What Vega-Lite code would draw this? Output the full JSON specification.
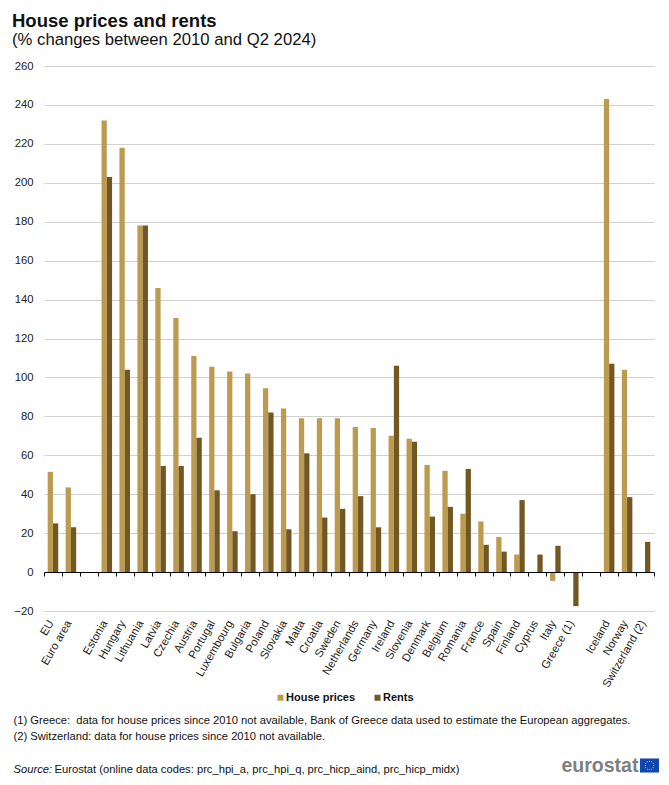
{"$schema":"https://vega.github.io/schema/vega-lite/v6.json","width":610,"height":545,"autosize":{"type":"none"},"padding":{"left":44,"top":66,"right":15,"bottom":174},"background":"white",
"config":{"font":"Liberation Sans","view":{"stroke":null}},
"title":{"text":"House prices and rents","subtitle":"(% changes between 2010 and Q2 2024)","anchor":"start","dx":-1,"offset":11,"fontSize":18.5,"fontWeight":"bold","color":"#111111","subtitleFontSize":16.7,"subtitleColor":"#111111","subtitleFont":"Liberation Sans","subtitlePadding":2},
"datasets":{"d":[
{"country":"EU","series":"House prices","value":51.5},{"country":"EU","series":"Rents","value":25},
{"country":"Euro area","series":"House prices","value":43.5},{"country":"Euro area","series":"Rents","value":23},
{"country":"Estonia","series":"House prices","value":232},{"country":"Estonia","series":"Rents","value":203},
{"country":"Hungary","series":"House prices","value":218},{"country":"Hungary","series":"Rents","value":104},
{"country":"Lithuania","series":"House prices","value":178},{"country":"Lithuania","series":"Rents","value":178},
{"country":"Latvia","series":"House prices","value":146},{"country":"Latvia","series":"Rents","value":54.5},
{"country":"Czechia","series":"House prices","value":130.5},{"country":"Czechia","series":"Rents","value":54.5},
{"country":"Austria","series":"House prices","value":111},{"country":"Austria","series":"Rents","value":69},
{"country":"Portugal","series":"House prices","value":105.5},{"country":"Portugal","series":"Rents","value":42},
{"country":"Luxembourg","series":"House prices","value":103},{"country":"Luxembourg","series":"Rents","value":21},
{"country":"Bulgaria","series":"House prices","value":102},{"country":"Bulgaria","series":"Rents","value":40},
{"country":"Poland","series":"House prices","value":94.5},{"country":"Poland","series":"Rents","value":82},
{"country":"Slovakia","series":"House prices","value":84},{"country":"Slovakia","series":"Rents","value":22},
{"country":"Malta","series":"House prices","value":79},{"country":"Malta","series":"Rents","value":61},
{"country":"Croatia","series":"House prices","value":79},{"country":"Croatia","series":"Rents","value":28},
{"country":"Sweden","series":"House prices","value":79},{"country":"Sweden","series":"Rents","value":32.5},
{"country":"Netherlands","series":"House prices","value":74.5},{"country":"Netherlands","series":"Rents","value":39},
{"country":"Germany","series":"House prices","value":74},{"country":"Germany","series":"Rents","value":23},
{"country":"Ireland","series":"House prices","value":70},{"country":"Ireland","series":"Rents","value":106},
{"country":"Slovenia","series":"House prices","value":68.5},{"country":"Slovenia","series":"Rents","value":67},
{"country":"Denmark","series":"House prices","value":55},{"country":"Denmark","series":"Rents","value":28.5},
{"country":"Belgium","series":"House prices","value":52},{"country":"Belgium","series":"Rents","value":33.5},
{"country":"Romania","series":"House prices","value":30},{"country":"Romania","series":"Rents","value":53},
{"country":"France","series":"House prices","value":26},{"country":"France","series":"Rents","value":14},
{"country":"Spain","series":"House prices","value":18},{"country":"Spain","series":"Rents","value":10.5},
{"country":"Finland","series":"House prices","value":9},{"country":"Finland","series":"Rents","value":37},
{"country":"Cyprus","series":"Rents","value":9},
{"country":"Italy","series":"House prices","value":-4.5},{"country":"Italy","series":"Rents","value":13.5},
{"country":"Greece (1)","series":"Rents","value":-17.5},
{"country":"Iceland","series":"House prices","value":243},{"country":"Iceland","series":"Rents","value":107},
{"country":"Norway","series":"House prices","value":104},{"country":"Norway","series":"Rents","value":38.5},
{"country":"Switzerland (2)","series":"Rents","value":15.5}
]},
"data":{"name":"d"},
"layer":[
{"mark":{"type":"bar"},
"encoding":{
"x":{"field":"country","type":"nominal","scale":{"domain":["EU","Euro area"," ","Estonia","Hungary","Lithuania","Latvia","Czechia","Austria","Portugal","Luxembourg","Bulgaria","Poland","Slovakia","Malta","Croatia","Sweden","Netherlands","Germany","Ireland","Slovenia","Denmark","Belgium","Romania","France","Spain","Finland","Cyprus","Italy","Greece (1)","  ","Iceland","Norway","Switzerland (2)"],"paddingInner":0,"paddingOuter":0},
"axis":{"offset":-39,"tickBand":"extent","domainColor":"#000000","tickColor":"#000000","domainWidth":1,"tickSize":4,"labelAngle":-60,"labelAlign":"right","labelBaseline":"middle","labelPadding":45,"labelOffset":-2,"labelFontSize":11.3,"labelColor":"#222222","labelOverlap":false,"zindex":1,"grid":false,
"title":["(1) Greece:\u00a0\u00a0data for house prices since 2010 not available, Bank of Greece data used to estimate the European aggregates.","(2) Switzerland: data for house prices since 2010 not available."],"titleFontSize":11.2,"titleFontWeight":"normal","titleColor":"#111111","titleAlign":"left","titleBaseline":"top","titleLineHeight":16,"titleX":-31,"titleY":142}},
"xOffset":{"field":"series","type":"nominal","scale":{"domain":["House prices","Rents"],"paddingOuter":0.7,"paddingInner":0}},
"y":{"field":"value","type":"quantitative","scale":{"domain":[-20,260],"nice":false,"zero":false},
"axis":{"values":[-20,0,20,40,60,80,100,120,140,160,180,200,220,240,260],"domain":false,"ticks":false,"labelPadding":11,"labelFontSize":11.3,"labelColor":"#222222","grid":true,"gridColor":"#d0d0d0","gridWidth":1,
"title":"Source:","titleFontSize":11.2,"titleFontStyle":"italic","titleFontWeight":"normal","titleColor":"#111111","titleAngle":0,"titleAlign":"left","titleBaseline":"alphabetic","titleX":-31,"titleY":706}},
"color":{"field":"series","type":"nominal","scale":{"domain":["House prices","Rents"],"range":["#BC9A50","#735720"]},
"legend":{"orient":"none","direction":"horizontal","legendX":231,"legendY":626,"title":null,"symbolType":"square","symbolSize":36,"labelFontSize":11,"labelFontWeight":"bold","labelColor":"#111111","labelOffset":0,"columnPadding":16,"symbolStrokeWidth":0}}
}},
{"transform":[{"filter":"false"}],"mark":{"type":"bar"},
"encoding":{
"x":{"field":"country","type":"nominal","axis":{"orient":"bottom","labels":false,"ticks":false,"domain":false,"grid":false,"title":"Eurostat (online data codes: prc_hpi_a, prc_hpi_q, prc_hicp_aind, prc_hicp_midx)","titleFontSize":11.2,"titleFontWeight":"normal","titleColor":"#111111","titleAlign":"left","titleBaseline":"alphabetic","titleX":10,"titleY":161}},
"y":{"field":"value","type":"quantitative","scale":{"domain":[-20,260],"nice":false},"axis":{"orient":"right","labels":false,"ticks":false,"domain":false,"grid":false,"title":"eurostat","titleFontSize":19.5,"titleFontWeight":"bold","titleColor":"#808080","titleAngle":0,"titleAlign":"left","titleBaseline":"alphabetic","titleX":-93,"titleY":705}},
"color":{"field":"series","type":"nominal","scale":{"domain":["EU flag"],"range":["#0F47AF"]},"legend":{"orient":"none","legendX":596,"legendY":690,"title":null,"labelExpr":"''","symbolType":"M-1,-0.74H1V0.74H-1Z","symbolSize":361,"symbolStrokeWidth":0}}
}},
{"transform":[{"filter":"false"}],"mark":{"type":"bar"},
"encoding":{
"x":{"field":"country","type":"nominal","axis":null},
"y":{"field":"value","type":"quantitative","scale":{"domain":[-20,260],"nice":false},"axis":null},
"color":{"field":"series","type":"nominal","scale":{"domain":["EU stars"],"range":["#F5D000"]},"legend":{"orient":"none","legendX":596,"legendY":690,"title":null,"labelExpr":"''","symbolType":"M0,-.52L.07,-.45L0,-.38L-.07,-.45ZM.225,-.46L.295,-.39L.225,-.32L.155,-.39ZM.39,-.295L.46,-.225L.39,-.155L.32,-.225ZM.45,-.07L.52,0L.45,.07L.38,0ZM.39,.155L.46,.225L.39,.295L.32,.225ZM.225,.32L.295,.39L.225,.46L.155,.39ZM0,.38L.07,.45L0,.52L-.07,.45ZM-.225,.32L-.155,.39L-.225,.46L-.295,.39ZM-.39,.155L-.32,.225L-.39,.295L-.46,.225ZM-.45,-.07L-.38,0L-.45,.07L-.52,0ZM-.39,-.295L-.32,-.225L-.39,-.155L-.46,-.225ZM-.225,-.46L-.155,-.39L-.225,-.32L-.295,-.39Z","symbolSize":361,"symbolStrokeWidth":0}}
}}
],
"resolve":{"scale":{"x":"independent","y":"independent","color":"independent"},"axis":{"x":"independent","y":"independent"},"legend":{"color":"independent"}}
}
